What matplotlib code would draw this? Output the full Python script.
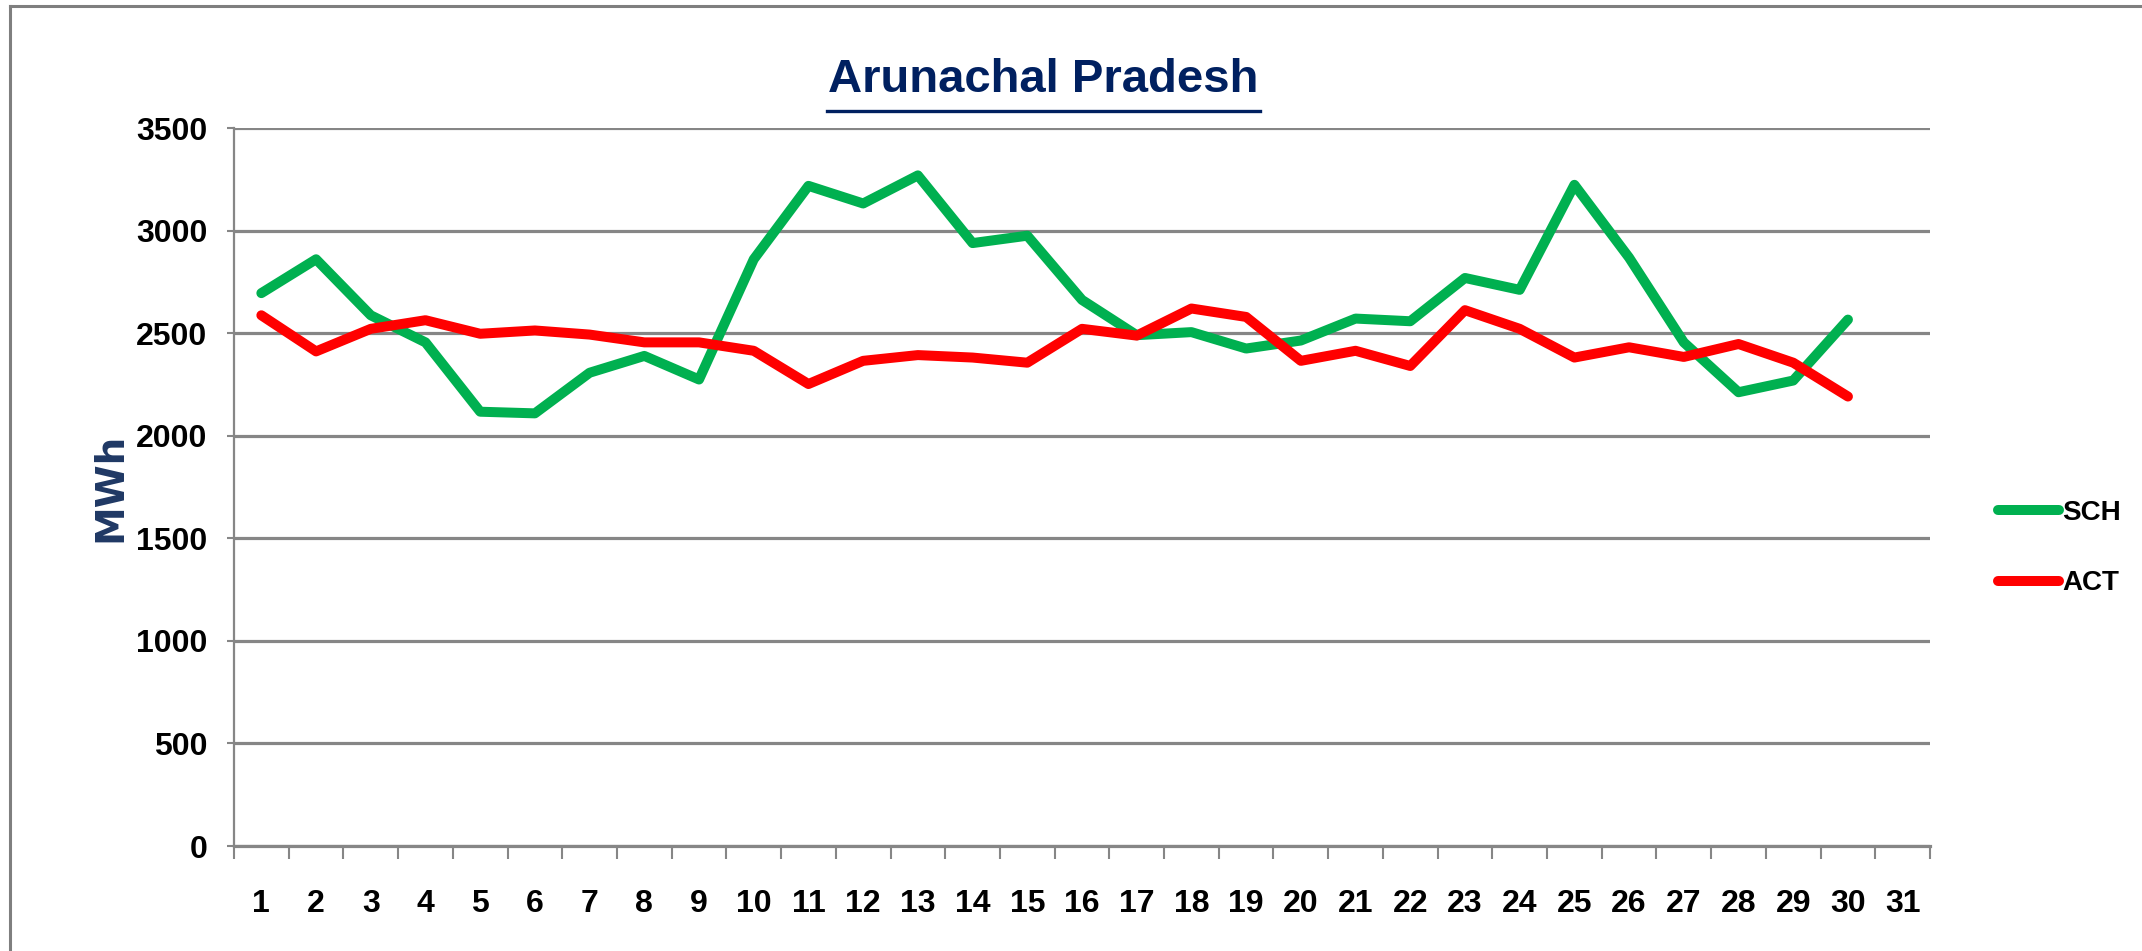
import matplotlib
matplotlib.use('Agg')
import matplotlib.pyplot as plt
from matplotlib.lines import Line2D

# Daily energy, Arunachal Pradesh (MWh)
days = list(range(1, 31))
day_labels = [str(d) for d in range(1, 32)]
sch = [2695, 2860, 2587, 2455, 2117, 2109, 2307, 2389, 2274, 2860,
       3218, 3132, 3269, 2939, 2975, 2662, 2490, 2505, 2425, 2464,
       2571, 2558, 2769, 2711, 3223, 2868, 2455, 2212, 2269, 2566]
act = [2587, 2411, 2521, 2563, 2497, 2513, 2493, 2455, 2455, 2414,
       2252, 2365, 2393, 2381, 2356, 2521, 2488, 2620, 2579, 2365,
       2414, 2340, 2612, 2521, 2381, 2431, 2384, 2447, 2356, 2191]
y_ticks = [0, 500, 1000, 1500, 2000, 2500, 3000, 3500]

narrow = ['Liberation Sans Narrow', 'Liberation Sans', 'DejaVu Sans']
W, H = 2142, 951

fig = plt.figure(figsize=(W / 100, H / 100), dpi=100)
ax = fig.add_axes([234 / W, 1 - 846 / H, (1930 - 234) / W, (846 - 128) / H])

# Lines
l1, = ax.plot(days, sch, color='#00B050', lw=7.2, solid_joinstyle='round',
              solid_capstyle='round', label='SCH', zorder=3)
l2, = ax.plot(days, act, color='#FF0000', lw=7.2, solid_joinstyle='round',
              solid_capstyle='round', label='ACT', zorder=3)

# Axes, grid, ticks
ax.set_xlim(0.5, 31.5)
ax.set_ylim(0, 3500)
ax.set_yticks(y_ticks)
ax.yaxis.grid(True, color='#868686', lw=2.3)
ax.set_axisbelow(True)
for s in ['top', 'right']:
    ax.spines[s].set_visible(False)
ax.spines['left'].set_color('#868686')
ax.spines['left'].set_linewidth(1.6)
ax.spines['bottom'].set_color('#868686')
ax.spines['bottom'].set_linewidth(2.3)

ax.set_xticks([x + 0.5 for x in range(0, 32)])
ax.set_xticklabels([])
ax.set_xticks(range(1, 32), minor=True)
ax.set_xticklabels(day_labels, minor=True)
ax.tick_params(axis='x', which='major', length=9, width=1.5, color='#868686', direction='out')
ax.tick_params(axis='x', which='minor', length=0, pad=31)
ax.tick_params(axis='y', length=5, width=1.5, color='#868686', pad=14)

for lab in ax.get_xticklabels(minor=True) + ax.get_yticklabels():
    lab.set_family(narrow)
    lab.set_fontweight('bold')
    lab.set_fontsize(23)

ax.set_ylabel('MWh', fontsize=28, fontweight='bold', color='#1F3864',
              family='DejaVu Sans')
ax.yaxis.set_label_coords((129 - 234) / (1930 - 234), (846 - 487) / (846 - 128))

# Title with underline
fig.text(1043.5 / W, 1 - 80 / H, 'Arunachal Pradesh', ha='center', va='center',
         fontsize=34, fontweight='bold', color='#002060', family=narrow)
fig.add_artist(Line2D([827 / W, 1260 / W], [1 - 111 / H, 1 - 111 / H],
                      color='#002060', lw=2.4, transform=fig.transFigure))

# Legend
leg = fig.legend(handles=[l1, l2], loc='center left',
                 bbox_to_anchor=(1998 / W, 1 - 548 / H), frameon=False,
                 handlelength=2.2, handletextpad=0.1, labelspacing=1.6,
                 borderpad=0, borderaxespad=0,
                 prop={'family': narrow, 'weight': 'bold', 'size': 20})

# Outer chart border (top and left visible)
fig.add_artist(Line2D([10 / W, 1], [1 - 6 / H, 1 - 6 / H], color='#7F7F7F', lw=2.2,
                      transform=fig.transFigure))
fig.add_artist(Line2D([10 / W, 10 / W], [0, 1 - 6 / H], color='#7F7F7F', lw=2.2,
                      transform=fig.transFigure))

plt.savefig('out.png', dpi=100)
